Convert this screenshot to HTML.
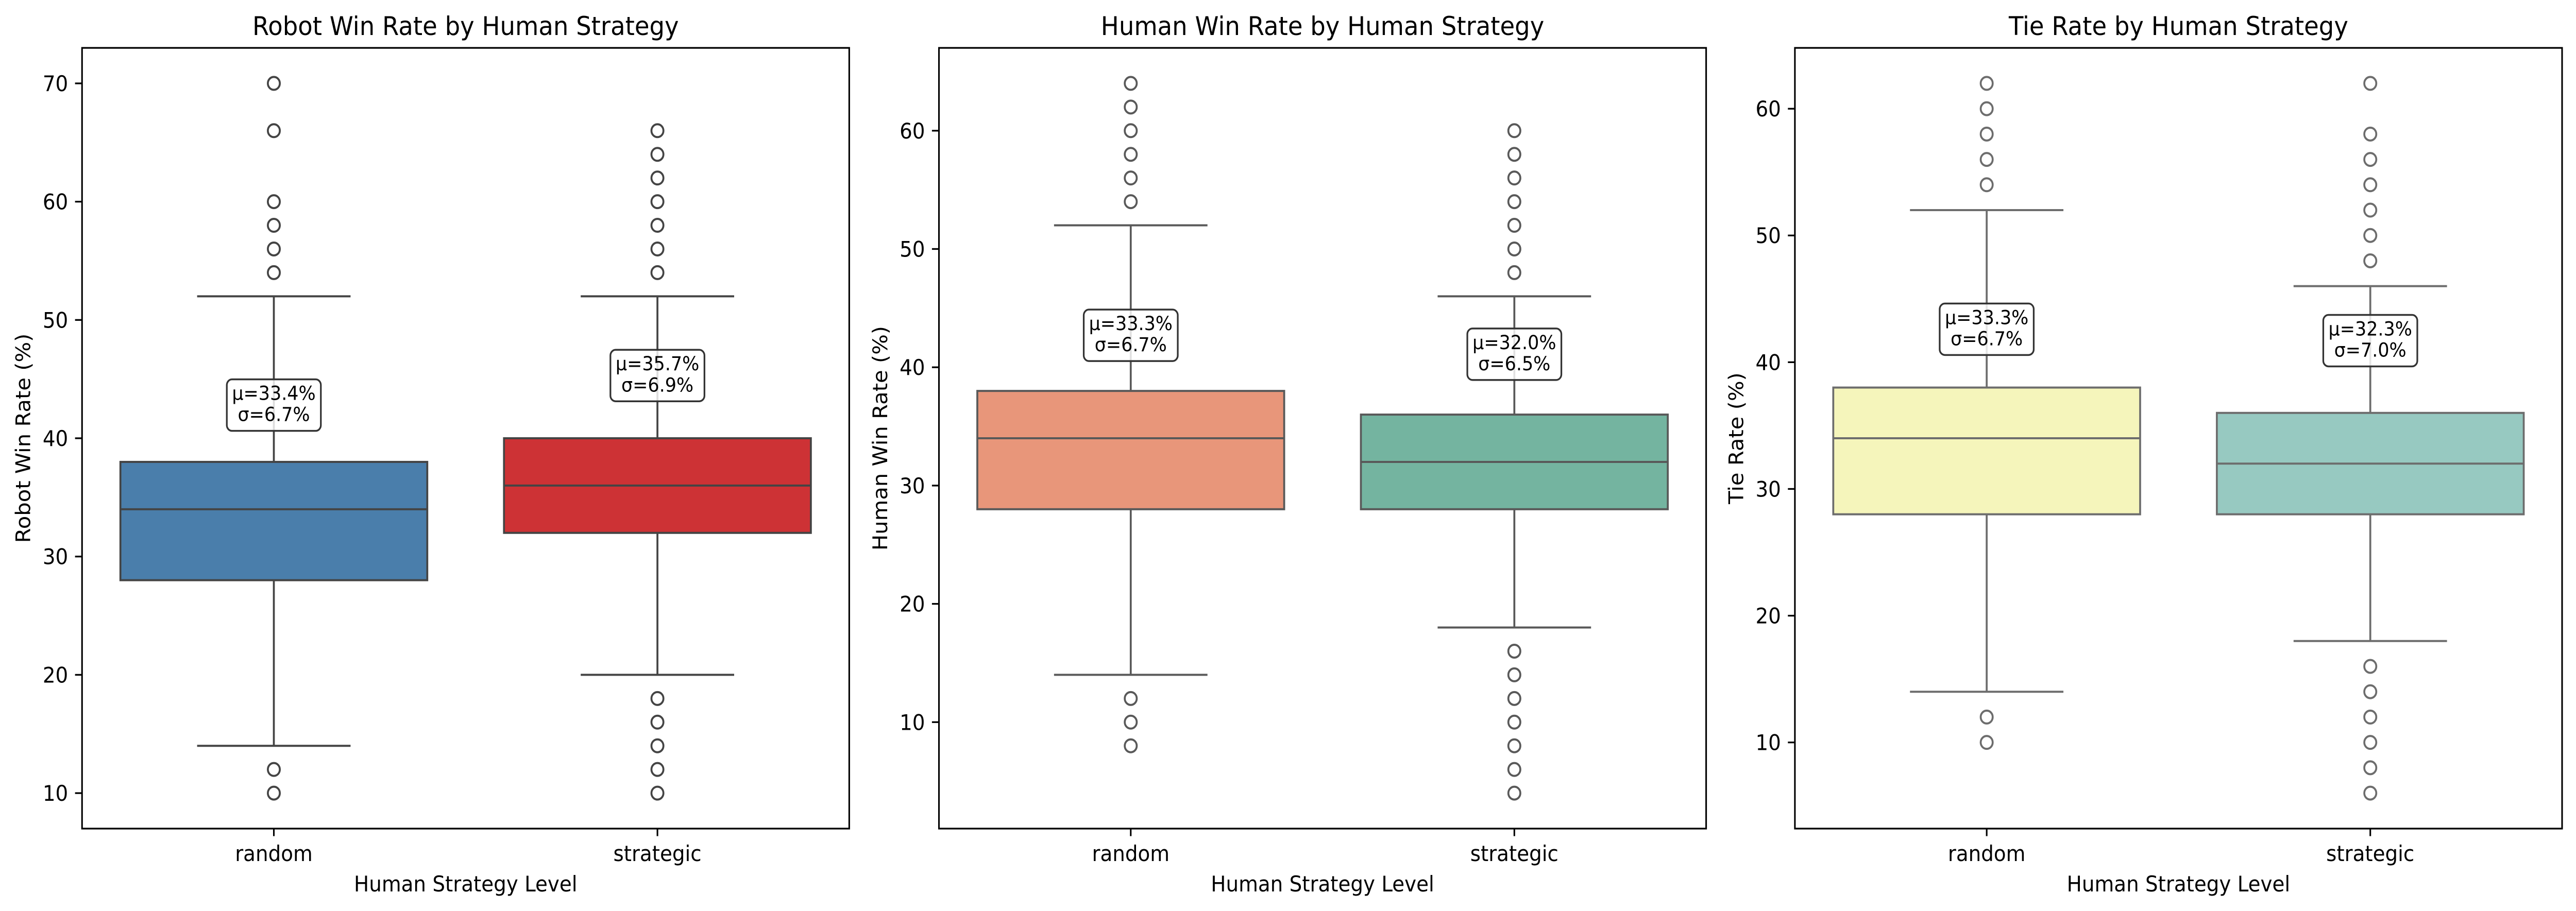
<!DOCTYPE html>
<html><head><meta charset="utf-8"><style>
html,body{margin:0;padding:0;background:#fff;width:100%;height:100%;overflow:hidden;}
svg{display:block;width:100vw;height:100vh;font-family:"DejaVu Sans","Liberation Sans",sans-serif;}
</style></head><body>
<svg id="fig" viewBox="0 0 5369 1769" preserveAspectRatio="none" xmlns="http://www.w3.org/2000/svg"></svg>
<script>
// ---- data ----
const categories = ["random", "strategic"];
const panelTitles = ["Robot Win Rate by Human Strategy", "Human Win Rate by Human Strategy", "Tie Rate by Human Strategy"];
const yLabels = ["Robot Win Rate (%)", "Human Win Rate (%)", "Tie Rate (%)"];
const yTicks1 = [10, 20, 30, 40, 50, 60, 70];
const yTicks2 = [10, 20, 30, 40, 50, 60];
const yTicks3 = [10, 20, 30, 40, 50, 60];
const yDomain1 = [7, 73];
const yDomain2 = [1, 67];
const yDomain3 = [3.2, 64.8];
// [whiskerLow, q1, median, q3, whiskerHigh]
const robotStats = [[14, 28, 34, 38, 52], [20, 32, 36, 40, 52]];
const humanStats = [[14, 28, 34, 38, 52], [18, 28, 32, 36, 46]];
const tieStats = [[14, 28, 34, 38, 52], [18, 28, 32, 36, 46]];
const robotOutliers = [[10, 12, 54, 56, 58, 60, 66, 70], [10, 12, 14, 16, 18, 54, 56, 58, 60, 62, 64, 66]];
const humanOutliers = [[8, 10, 12, 54, 56, 58, 60, 62, 64], [4, 6, 8, 10, 12, 14, 16, 48, 50, 52, 54, 56, 58, 60]];
const tieOutliers = [[10, 12, 54, 56, 58, 60, 62], [6, 8, 10, 12, 14, 16, 48, 50, 52, 54, 56, 58, 62]];
const robotMeans = ["33.4", "35.7"], robotStds = ["6.7", "6.9"];
const humanMeans = ["33.3", "32.0"], humanStds = ["6.7", "6.5"];
const tieMeans = ["33.3", "32.3"], tieStds = ["6.7", "7.0"];
const robotAnnotY = [42.8, 45.3];
const humanAnnotY = [42.7, 41.1];
const tieAnnotY = [42.6, 41.7];

// ---- styles ----
const panelLeft = [171, 1957, 3741];
const axW = 1599, axTop = 93, axBot = 1609;
const fills = [["#4a7eab", "#cd3235"], ["#e8967a", "#74b4a0"], ["#f5f5bb", "#97c9c1"]];
const lineCols = ["#444444", "#595959", "#6d6d6d"];

const NS = "http://www.w3.org/2000/svg";
const svg = document.getElementById("fig");
function mk(tag, attrs, parent) {
  const e = document.createElementNS(NS, tag);
  for (const k in attrs) e.setAttribute(k, attrs[k]);
  (parent || svg).appendChild(e);
  return e;
}

const panels = [
  {stats: robotStats, outs: robotOutliers, means: robotMeans, stds: robotStds, ay: robotAnnotY, ticks: yTicks1, dom: yDomain1},
  {stats: humanStats, outs: humanOutliers, means: humanMeans, stds: humanStds, ay: humanAnnotY, ticks: yTicks2, dom: yDomain2},
  {stats: tieStats, outs: tieOutliers, means: tieMeans, stds: tieStds, ay: tieAnnotY, ticks: yTicks3, dom: yDomain3}
];

panels.forEach((p, pi) => {
  const L = panelLeft[pi];
  const g = mk("g", {});
  
  
  const yS = v => axBot - (v - p.dom[0]) / (p.dom[1] - p.dom[0]) * (axBot - axTop);
  const xS = i => L + axW * (i + 0.5) / categories.length;
  const band = axW / categories.length;
  const lc = lineCols[pi];

  const t = mk("text", {x: L + axW / 2, y: 68, "text-anchor": "middle", "font-size": 50, fill: "#000"}, g);
  t.textContent = panelTitles[pi];
  
  

  p.ticks.forEach(v => {
    const y = yS(v);
    mk("line", {x1: L - 14.6, x2: L, y1: y, y2: y, stroke: "#000", "stroke-width": 3.3}, g);
    const tl = mk("text", {x: L - 29, y: y + 15, "text-anchor": "end", "font-size": 41.7, fill: "#000"}, g);
    tl.textContent = v;
    
    
  });
  const yl = mk("text", {x: 0, y: 0, transform: `translate(${L - 108},${(axTop + axBot) / 2}) rotate(-90)`, "text-anchor": "middle", "font-size": 41.7, fill: "#000"}, g);
  yl.textContent = yLabels[pi];
  
  

  categories.forEach((c, i) => {
    const s = p.stats[i], cx = xS(i);
    const bg = mk("g", {}, g);
    
    
    mk("line", {x1: cx, x2: cx, y1: yS(s[3]), y2: yS(s[4]), stroke: lc, "stroke-width": 4}, bg);
    mk("line", {x1: cx, x2: cx, y1: yS(s[0]), y2: yS(s[1]), stroke: lc, "stroke-width": 4}, bg);
    mk("line", {x1: cx - band * 0.2, x2: cx + band * 0.2, y1: yS(s[4]), y2: yS(s[4]), stroke: lc, "stroke-width": 4}, bg);
    mk("line", {x1: cx - band * 0.2, x2: cx + band * 0.2, y1: yS(s[0]), y2: yS(s[0]), stroke: lc, "stroke-width": 4}, bg);
    mk("rect", {x: cx - band * 0.4, y: yS(s[3]), width: band * 0.8, height: yS(s[1]) - yS(s[3]), fill: fills[pi][i], stroke: lc, "stroke-width": 4}, bg);
    mk("line", {x1: cx - band * 0.4, x2: cx + band * 0.4, y1: yS(s[2]), y2: yS(s[2]), stroke: lc, "stroke-width": 4}, bg);
    p.outs[i].forEach(v => {
      const o = mk("circle", {cx: cx, cy: yS(v), r: 12.5, fill: "none", stroke: lc, "stroke-width": 4}, bg);
      
      
    });
    const ay = yS(p.ay[i]);
    const ag = mk("g", {}, g);
    
    
    mk("rect", {x: cx - 98, y: ay - 50, width: 196, height: 100, rx: 11, fill: "#fff", "fill-opacity": 0.82, stroke: "#333", "stroke-width": 3.5}, ag);
    const a1 = mk("text", {x: cx, y: ay - 10, "text-anchor": "middle", "font-size": 37.5, fill: "#000"}, ag);
    a1.textContent = "μ=" + p.means[i] + "%";
    const a2 = mk("text", {x: cx, y: ay + 31, "text-anchor": "middle", "font-size": 37.5, fill: "#000"}, ag);
    a2.textContent = "σ=" + p.stds[i] + "%";
    mk("line", {x1: cx, x2: cx, y1: axBot, y2: axBot + 14.6, stroke: "#000", "stroke-width": 3.3}, g);
    const xl = mk("text", {x: cx, y: 1672, "text-anchor": "middle", "font-size": 41.7, fill: "#000"}, g);
    xl.textContent = c;
    
    
  });

  const fr = mk("rect", {x: L, y: axTop, width: axW, height: axBot - axTop, fill: "none", stroke: "#000", "stroke-width": 3.3}, g);
  
  
  const xt = mk("text", {x: L + axW / 2, y: 1731, "text-anchor": "middle", "font-size": 41.7, fill: "#000"}, g);
  xt.textContent = "Human Strategy Level";
  
  
});
</script>
</body></html>
